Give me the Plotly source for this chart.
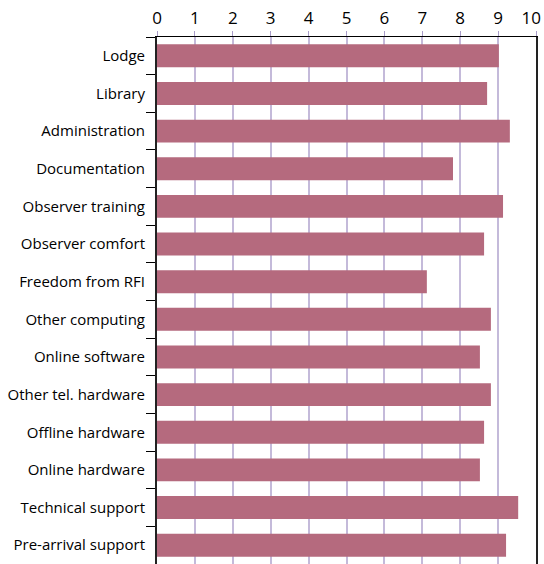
import plotly.graph_objects as go

categories = ["Lodge", "Library", "Administration", "Documentation", "Observer training",
              "Observer comfort", "Freedom from RFI", "Other computing", "Online software",
              "Other tel. hardware", "Offline hardware", "Online hardware",
              "Technical support", "Pre-arrival support"]
values = [9.02, 8.71, 9.31, 7.81, 9.13, 8.63, 7.12, 8.81, 8.52, 8.81, 8.63, 8.52, 9.53, 9.21]
x_ticks = list(range(0, 11))
x_tick_labels = ["0", "1", "2", "3", "4", "5", "6", "7", "8", "9", "10\u2007"]

fig = go.Figure(go.Bar(
    x=values, y=categories, orientation="h",
    marker=dict(color="#b56a7e", line=dict(width=0)),
    width=0.61,
))

fig.update_layout(
    width=544, height=564,
    margin=dict(l=157, r=8, t=37, b=0, autoexpand=False),
    paper_bgcolor="white", plot_bgcolor="white",
    font=dict(family="Open Sans", size=15, color="black"),
    showlegend=False,
)
fig.update_xaxes(
    side="top", range=[0, 10], tickvals=x_ticks, ticktext=x_tick_labels,
    automargin=False,
    showgrid=True, gridcolor="#c4bada", gridwidth=2,
    showline=True, linecolor="black", linewidth=1,
    ticks="outside", ticklen=5, tickcolor="#a89cc8",
    tickfont=dict(size=17), zeroline=False, ticklabeloverflow="allow",
)
fig.update_yaxes(
    categoryorder="array", categoryarray=categories, autorange="reversed",
    automargin=False,
    showline=True, linecolor="#222222", linewidth=2, mirror=True,
    ticks="outside", ticklen=9, tickcolor="black", tickson="boundaries",
    ticklabelstandoff=7,
)

fig.write_html(
    "out.html",
    config={"displayModeBar": False},
    post_script="document.body.style.margin='0';document.body.style.overflow='hidden';",
)
